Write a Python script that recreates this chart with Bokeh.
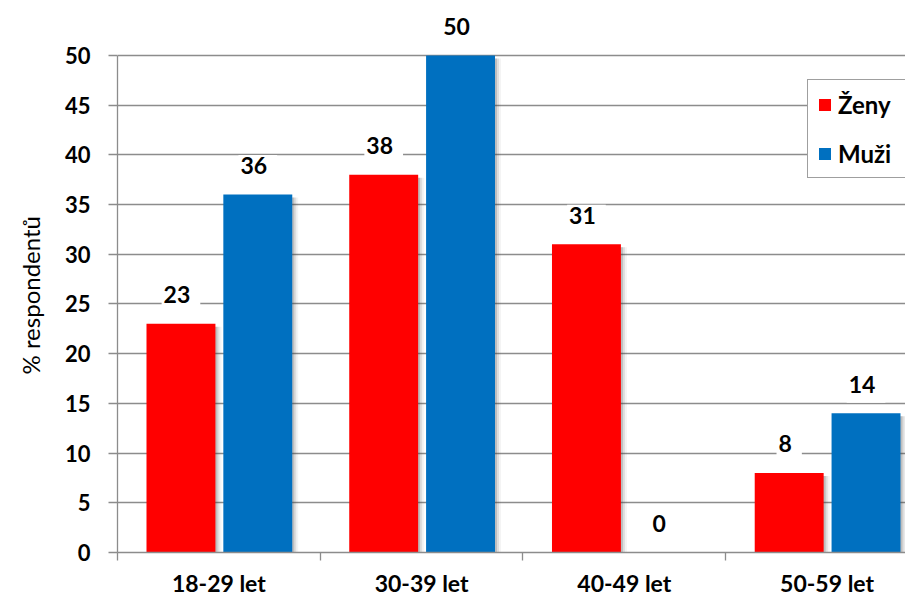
from bokeh.plotting import figure
from bokeh.models import (Range1d, FixedTicker, ColumnDataSource, Legend, LegendItem, Title)
from bokeh.core.properties import value
from bokeh.embed import file_html
from bokeh.resources import INLINE

# Age groups and share of respondents (%) by sex
categories = ["18-29 let", "30-39 let", "40-49 let", "50-59 let"]
zeny = [23, 38, 31, 8]
muzi = [36, 50, 0, 14]
y_ticks = [0, 5, 10, 15, 20, 25, 30, 35, 40, 45, 50]
y_title = "% respondentů"

RED = "#FF0000"
BLUE = "#0070C0"
GRID = "#8C8C8C"
FONT = "Lato"

W, H = 905, 599
LEFT, TOP, BOTTOM = 116, 10, 46
CAT_PX = 203.0          # pixel width of one category slot
UNIT_PX = 9.96          # pixels per percentage point

x_end = (W - LEFT) / CAT_PX
y_end = (H - TOP - BOTTOM) / UNIT_PX

p = figure(width=W, height=H, output_backend="svg", toolbar_location=None,
           x_range=Range1d(0, x_end), y_range=Range1d(0, y_end),
           min_border_left=LEFT, min_border_right=0, min_border_top=TOP,
           min_border_bottom=BOTTOM)
p.outline_line_color = None
p.background_fill_color = "white"
p.border_fill_color = "white"

idx = list(range(len(categories)))
bar_w = 0.34
red_x = [i + 0.313 for i in idx]
blue_x = [i + 0.692 for i in idx]

# soft drop shadow on the right of each bar
px = 1.0 / CAT_PX
for k, alpha in [(6, 0.06), (4, 0.12), (2, 0.2)]:
    for xs, vals in [(red_x, zeny), (blue_x, muzi)]:
        tops = [v - 0.3 for v in vals]
        p.vbar(x=[x + k * px for x in xs], top=tops, bottom=-1, width=bar_w,
               fill_color="#404040", fill_alpha=alpha, line_color=None)

r_red = p.vbar(x=red_x, top=zeny, width=bar_w, fill_color=RED, line_color=None)
r_blue = p.vbar(x=blue_x, top=muzi, width=bar_w, fill_color=BLUE, line_color=None)

# value labels above bars
lab = ColumnDataSource(dict(x=red_x + blue_x, y=zeny + muzi,
                            t=[str(v) for v in zeny + muzi]))
p.text(x="x", y="y", text="t", source=lab, text_align="center",
       text_baseline="middle", y_offset=-25, text_font=value(FONT),
       text_font_style="bold", text_font_size="23px", text_color="black",
       background_fill_color="white", padding=[2, 10, 2, 10])

# axes
yax = p.yaxis[0]
yax.ticker = FixedTicker(ticks=y_ticks, minor_ticks=[])
yax.bounds = (0, 50)
yax.axis_line_color = GRID
yax.axis_line_width = 1.3
yax.major_tick_line_color = GRID
yax.major_tick_line_width = 1.3
yax.major_tick_out = 9
yax.major_tick_in = 0
yax.minor_tick_line_color = None
yax.major_label_standoff = 18
yax.major_label_text_font = FONT
yax.major_label_text_font_style = "bold"
yax.major_label_text_font_size = "22px"
yax.major_label_text_color = "black"

# y-axis title as a side title, started a fixed distance above the baseline
p.add_layout(Title(text=y_title, align="left", offset=178, vertical_align="top",
                   standoff=30, text_font=FONT, text_font_style="normal",
                   text_font_size="24px", text_color="black"), "left")

xax = p.xaxis[0]
centers = [i + 0.5 for i in idx]
xax.ticker = FixedTicker(ticks=centers, minor_ticks=idx)
xax.major_label_overrides = {c: name for c, name in zip(centers, categories)}
xax.axis_line_color = GRID
xax.axis_line_width = 1.3
xax.major_tick_line_color = None
xax.major_tick_out = 0
xax.major_tick_in = 0
xax.minor_tick_line_color = GRID
xax.minor_tick_line_width = 1.3
xax.minor_tick_out = 8
xax.minor_tick_in = 0
xax.major_label_standoff = 8
xax.major_label_text_font = FONT
xax.major_label_text_font_style = "bold"
xax.major_label_text_font_size = "23px"
xax.major_label_text_color = "black"

p.xgrid.grid_line_color = None
p.ygrid.ticker = FixedTicker(ticks=y_ticks)
p.ygrid.grid_line_color = GRID
p.ygrid.grid_line_width = 1.3

legend = Legend(items=[LegendItem(label="Ženy", renderers=[r_red]),
                       LegendItem(label="Muži", renderers=[r_blue])],
                location=(690, 374), orientation="vertical",
                glyph_width=15, glyph_height=15, label_width=70, label_height=30,
                spacing=19, padding=9, margin=0, label_standoff=6,
                label_text_font=FONT, label_text_font_style="bold",
                label_text_font_size="24px", label_text_color="black",
                border_line_color="#404040", border_line_width=1.5,
                background_fill_color="white", background_fill_alpha=1)
p.add_layout(legend)

open("out.html", "w").write(file_html(p, INLINE))
